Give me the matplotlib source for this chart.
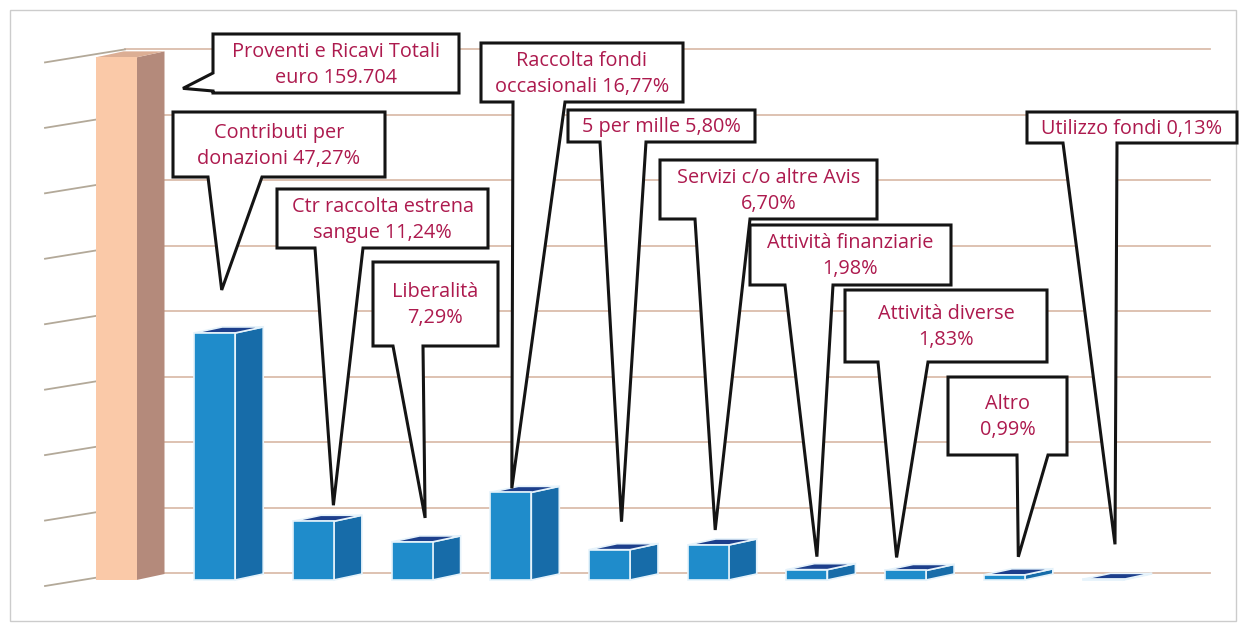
import numpy as np
import matplotlib.pyplot as plt
from matplotlib.patches import Polygon, Rectangle

# dati: proventi e ricavi, quota percentuale sul totale
totale = 159704
voci = ["Proventi e Ricavi Totali", "Contributi per donazioni", "Ctr raccolta estrena sangue",
        "Liberalità", "Raccolta fondi occasionali", "5 per mille", "Servizi c/o altre Avis",
        "Attività finanziarie", "Attività diverse", "Altro", "Utilizzo fondi"]
quote = [100, 47.27, 11.24, 7.29, 16.77, 5.80, 6.70, 1.98, 1.83, 0.99, 0.13]
etichette = ["Proventi e Ricavi Totali\neuro 159.704",
             "Contributi per\ndonazioni 47,27%",
             "Ctr raccolta estrena\nsangue 11,24%",
             "Liberalità\n7,29%",
             "Raccolta fondi\noccasionali 16,77%",
             "5 per mille 5,80%",
             "Servizi c/o altre Avis\n6,70%",
             "Attività finanziarie\n1,98%",
             "Attività diverse\n1,83%",
             "Altro\n0,99%",
             "Utilizzo fondi 0,13%"]
valori = np.array(quote) * totale / 100

# layout dei fumetti in pixel (x0, y0, x1, y1), base della punta, spostamento punta
box = [(213, 34, 459, 93), (173, 112, 385, 177), (277, 189, 488, 248), (373, 262, 498, 346),
       (481, 43, 683, 102), (568, 110, 755, 142), (660, 160, 877, 219), (750, 225, 951, 285),
       (845, 290, 1047, 362), (948, 377, 1067, 455), (1027, 112, 1237, 143)]
base_punta = [(73, 91), (208, 262), (315, 363), (393, 423), (513, 565), (600, 646),
              (695, 750), (785, 833), (878, 928), (1017, 1048), (1063, 1117)]
punta_dx = [67, 7, 20, 13, 1, 12, 7, 10, -9, 14, 12]
punta_gap = [-31, 43, 16, 24, 4, 28, 15, 13, 13, 18, 35]

W, H = 1239, 627
X0, STEP, BASE = 116, 98.7, 580
SY = 523.6 / 160000

fig = plt.figure(figsize=(W / 100, H / 100), dpi=100)
ax = fig.add_axes([0, 0, 1, 1])
ax.axis('off')
ax.set_xlim(-X0 / STEP, (W - X0) / STEP)
ax.set_ylim(-(H - BASE) / SY, BASE / SY)


def px(xp, yp):
    return ((xp - X0) / STEP, (BASE - yp) / SY)


# cornice
(bx0, by0), (bx1, by1) = px(10, 621), px(1236, 10)
ax.add_patch(Rectangle((bx0, by0), bx1 - bx0, by1 - by0, fill=False, ec='#cccccc', lw=1, zorder=0))

# griglia (parete di fondo) e linee della parete sinistra
off = 7 / SY
gx0, gx1 = px(125, 0)[0], px(1210, 0)[0]
wx0 = px(45, 0)[0]
for g in np.arange(0, 160001, 20000):
    ax.plot([gx0, gx1], [g + off, g + off], color='#dbbdab', lw=1.3, zorder=1)
    ax.plot([wx0, gx0], [g + off - 13 / SY, g + off], color='#b3a999', lw=1.3, zorder=1)

# barre 3D
x = np.arange(len(valori))
bw = 41 / STEP
dx, dy = 28 / STEP, 6 / SY
fronte = ['#fac9a8'] + ['#1f8ccb'] * 10
lato = ['#b48a7b'] + ['#176ca9'] * 10
sopra = ['#dcae94'] + ['#1d3f8c'] * 10
for i, v in enumerate(valori):
    xr = x[i] + bw / 2
    xl = x[i] - bw / 2
    ec = 'none' if i == 0 else '#e6f3fb'
    ax.add_patch(Polygon([(xr, 0), (xr + dx, dy), (xr + dx, v + dy), (xr, v)], closed=True,
                         fc=lato[i], ec=ec, lw=1.2, zorder=3))
    ax.add_patch(Polygon([(xl, v), (xr, v), (xr + dx, v + dy), (xl + dx, v + dy)], closed=True,
                         fc=sopra[i], ec=ec, lw=1.2, zorder=3))
ax.bar(x, valori, width=bw, color=fronte, edgecolor=['none'] + ['#e6f3fb'] * 10, lw=1.2, zorder=4)

# fumetti
for i in range(len(valori)):
    x0, y0, x1, y1 = box[i]
    b0, b1 = base_punta[i]
    tip_x = x[i] + punta_dx[i] / STEP
    tip_y = valori[i] + punta_gap[i] / SY
    if i == 0:
        pts = [px(x0, y0), px(x1, y0), px(x1, y1), px(x0, y1), px(x0, b1), (tip_x, tip_y), px(x0, b0)]
    else:
        pts = [px(x0, y0), px(x1, y0), px(x1, y1), px(b1, y1), (tip_x, tip_y), px(b0, y1), px(x0, y1)]
    ax.add_patch(Polygon(pts, closed=True, fc='white', ec='#141414', lw=2.2, joinstyle='miter',
                         zorder=5 + i))
    cx, cy = px((x0 + x1) / 2, (y0 + y1) / 2 + 1)
    ax.text(cx, cy, etichette[i], ha='center', va='center', fontsize=14.3, family='Open Sans',
            color='#ad1a4e', linespacing=1.4, zorder=5 + i)

fig.savefig('out.png', dpi=100)
